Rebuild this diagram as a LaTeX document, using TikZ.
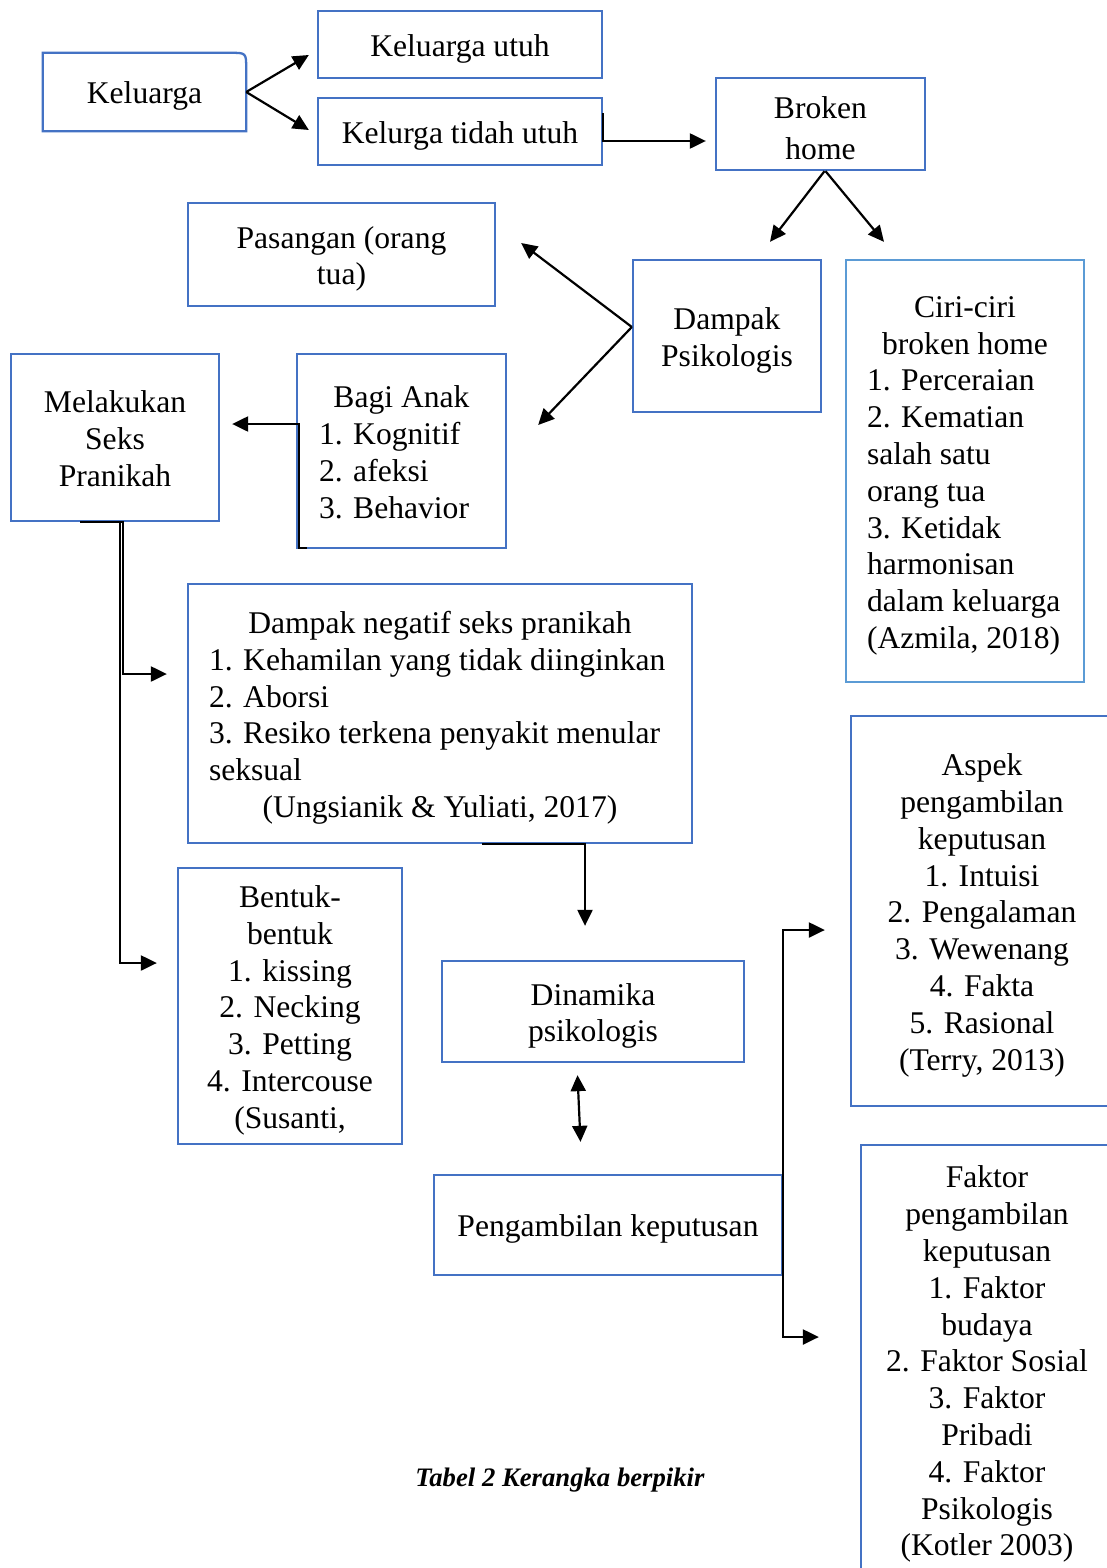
\documentclass[tikz,border=0pt]{standalone}
\usepackage{fontspec}
\setmainfont{Liberation Serif}
\usetikzlibrary{arrows.meta}
\definecolor{boxblue}{HTML}{4472C4}
\definecolor{lightblue}{HTML}{5B9BD5}
\newcommand{\topstr}{\rule{0pt}{30.8pt}}
\begin{document}
\begin{tikzpicture}[x=1pt,y=-1pt,
  mainfont/.style={font=\fontsize{31.6}{36.8}\selectfont},
  txt/.style={mainfont, inner sep=0pt, align=center,
    execute at end node={\rule[-7pt]{0pt}{0pt}}},
  bx/.style={txt, draw=boxblue, line width=2.3pt},
  bxline/.style={draw=boxblue, line width=2.3pt},
  lbx/.style={bx, align=left, inner xsep=21pt, inner ysep=0pt},
  arr/.style={line width=2.2pt, -{Triangle[length=16pt,width=15pt]}},
  darr/.style={line width=2.2pt, {Triangle[length=16pt,width=15pt]}-{Triangle[length=16pt,width=15pt]}},
]
\useasboundingbox (0,0) rectangle (1107,1568);
\fill[white] (0,0) rectangle (1107,1568);
\clip (0,0) rectangle (1107,1568);

% nodes
\node[txt, minimum width=203pt, minimum height=78pt] (kel) at (144.5,92) {\topstr Keluarga};
\draw[bxline, line join=miter] ([xshift=-16pt]kel.north east) .. controls (kel.north east) .. ([yshift=-16pt]kel.north east) -- (kel.south east) -- (kel.south west) -- (kel.north west) -- cycle;

\node[bx, minimum width=284pt, minimum height=67pt] (ku) at (460,44.5) {\topstr Keluarga utuh};
\node[bx, minimum width=284pt, minimum height=67pt] (ktu) at (460,131.5) {\topstr Kelurga tidah utuh};
\node[bx, minimum width=209pt, minimum height=92pt, font=\fontsize{31.6}{41}\selectfont,
  execute at end node={}] (bh) at (820.5,124) {\rule{0pt}{38pt}Broken\\home};
\node[bx, minimum width=307pt, minimum height=103pt] (pas) at (341.5,254.5) {\topstr Pasangan (orang\\tua)};
\node[bx, minimum width=188pt, minimum height=152pt] (dp) at (727,336) {\topstr Dampak\\Psikologis};
\node[lbx, draw=lightblue, minimum width=238pt, minimum height=422pt] (ciri) at (965,471) {\topstr\makebox[196pt][c]{Ciri-ciri}\\ \makebox[196pt][c]{broken home}\\ 1. Perceraian\\ 2. Kematian\\ salah satu\\ orang tua\\ 3. Ketidak\\ harmonisan\\ dalam keluarga\\ (Azmila, 2018)};
\node[bx, minimum width=208pt, minimum height=167pt] (msp) at (115,437.5) {\topstr Melakukan\\Seks\\Pranikah};
\node[lbx, inner xsep=22pt, minimum width=209pt, minimum height=194pt] (ba) at (401.5,451) {\topstr\makebox[165pt][c]{Bagi Anak}\\ 1. Kognitif\\ 2. afeksi\\ 3. Behavior};
\node[lbx, minimum width=504pt, minimum height=259pt] (dn) at (440,713.5) {\topstr\makebox[462pt][c]{Dampak negatif seks pranikah}\\ 1. Kehamilan yang tidak diinginkan\\ 2. Aborsi\\ 3. Resiko terkena penyakit menular\\ seksual\\ \makebox[462pt][c]{(Ungsianik \& Yuliati, 2017)}};
\node[bx, minimum width=224pt, minimum height=276pt] (bb) at (290,1006) {\topstr Bentuk-\\bentuk\\1. kissing\\2. Necking\\3. Petting\\4. Intercouse\\(Susanti,};
\node[bx, minimum width=302pt, minimum height=101pt] (dyn) at (593,1011.5) {\topstr Dinamika\\psikologis};
\node[bx, minimum width=348pt, minimum height=100pt] (pk) at (608,1225) {\topstr Pengambilan keputusan};
\node[bx, minimum width=262pt, minimum height=390pt] (asp) at (982,911) {\topstr Aspek\\pengambilan\\keputusan\\1. Intuisi\\2. Pengalaman\\3. Wewenang\\4. Fakta\\5. Rasional\\(Terry, 2013)};
\node[bx, minimum width=252pt, minimum height=430pt] (fak) at (987,1360) {\topstr Faktor\\pengambilan\\keputusan\\1. Faktor\\budaya\\2. Faktor Sosial\\3. Faktor\\Pribadi\\4. Faktor\\Psikologis\\(Kotler 2003)};
\node[font=\fontsize{26.7}{30}\selectfont\bfseries\itshape, inner sep=0pt] (cap) at (560,1480) {Tabel 2 Kerangka berpikir};

% connectors
\draw[arr] (kel.east) -- ([xshift=-8pt,yshift=-10.5pt]ku.west);
\draw[arr] (kel.east) -- ([xshift=-8pt,yshift=1.5pt]ktu.west);
\draw[arr] ([yshift=18pt]ktu.east) |- ([xshift=-9pt,yshift=-17pt]bh.west);
\draw[arr] ([xshift=4pt]bh.south) -- ([xshift=43pt,yshift=17pt]dp.north);
\draw[arr] ([xshift=5pt]bh.south) -- ([xshift=-81pt,yshift=17pt]ciri.north);
\draw[arr] ([yshift=9pt]dp.west) -- ([xshift=25pt,yshift=11.5pt]pas.east);
\draw[arr] ([yshift=9pt]dp.west) -- ([xshift=31pt,yshift=26pt]ba.east);
\draw[arr] ([xshift=11pt,yshift=1pt]ba.south west) -- ++(-8,0) |- ([xshift=12pt,yshift=13.5pt]msp.east);
\draw[arr] ([xshift=-35pt]msp.south) -- ([xshift=8pt]msp.south) |- ([xshift=-20pt,yshift=39.5pt]dn.west);
\draw[arr] ([xshift=5pt]msp.south) |- ([xshift=-20pt,yshift=43pt]bb.west);
\draw[arr] ([xshift=42pt]dn.south) -| ([xshift=-8pt,yshift=34pt]dyn.north);
\draw[darr] ([xshift=-15.5pt,yshift=-12pt]dyn.south) -- ([xshift=-27.5pt,yshift=32pt]pk.north);
\draw[arr] (pk.east) |- ([xshift=-25pt,yshift=-19pt]asp.west);
\draw[arr] (pk.east) |- ([xshift=-41pt,yshift=23pt]fak.west);
\end{tikzpicture}
\end{document}
